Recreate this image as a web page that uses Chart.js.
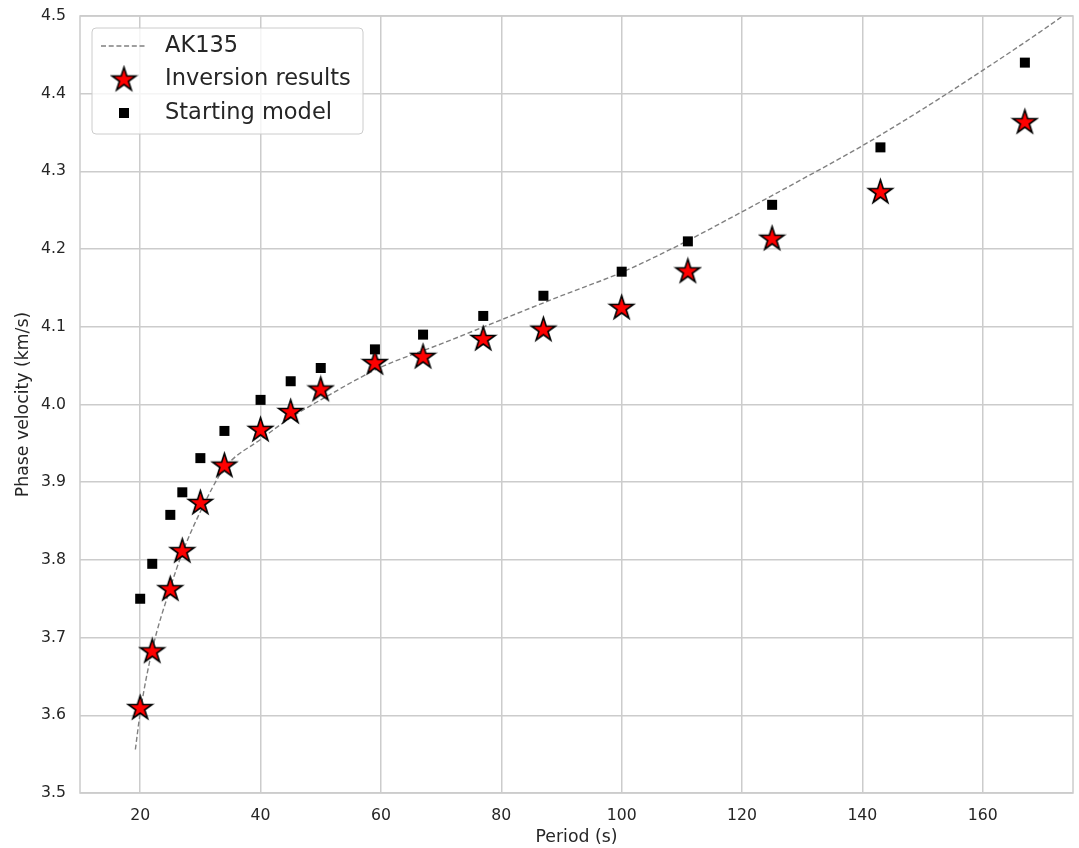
<!DOCTYPE html>
<html>
<head>
<meta charset="utf-8">
<title>Phase velocity</title>
<script src="https://cdn.jsdelivr.net/npm/chart.js@4.4.1/dist/chart.umd.min.js"></script>
<style>
  html, body { margin: 0; padding: 0; background: #ffffff; }
  #wrap { width: 1079px; height: 848px; }
</style>
</head>
<body>
<div id="wrap"><canvas id="chart" width="1079" height="848"></canvas></div>
<script>
// periods (s) where inversion / starting model were evaluated
const periods = [20, 22, 25, 27, 30, 34, 40, 45, 50, 59, 67, 77, 87, 100, 111, 125, 143, 167];
const inversionVel = [3.610, 3.683, 3.763, 3.812, 3.874, 3.922, 3.968, 3.991, 4.020, 4.054, 4.062, 4.085, 4.097, 4.125, 4.172, 4.214, 4.274, 4.364];
const startingVel = [3.750, 3.795, 3.858, 3.887, 3.931, 3.966, 4.006, 4.030, 4.047, 4.071, 4.090, 4.114, 4.140, 4.171, 4.210, 4.257, 4.331, 4.440];

// AK135 reference curve
const akPeriods = [19.2, 20, 22, 25, 27, 30, 34, 40, 45, 50, 60, 70, 80, 90, 100, 110, 120, 130, 140, 150, 160, 170, 176];
const akVel = [3.556, 3.603, 3.684, 3.764, 3.809, 3.862, 3.918, 3.955, 3.983, 4.006, 4.048, 4.078, 4.109, 4.140, 4.170, 4.207, 4.248, 4.290, 4.333, 4.380, 4.430, 4.482, 4.515];

const xTicks = [20, 40, 60, 80, 100, 120, 140, 160];
const labels = ["AK135", "Inversion results", "Starting model"];

const TEXT = "#262626";
const GRID = "#cccccc";
const FONT = "'DejaVu Sans', sans-serif";
const DASH = [5, 2.7];

// marker images
function makeStar(r) {
  const c = document.createElement("canvas");
  const s = Math.ceil(r * 2 + 4);
  c.width = s; c.height = s;
  const g = c.getContext("2d");
  const cx = s / 2, cy = s / 2 + 0.8, ri = r * 0.382;
  g.beginPath();
  for (let i = 0; i < 10; i++) {
    const rad = i % 2 === 0 ? r : ri;
    const a = -Math.PI / 2 + i * Math.PI / 5;
    const px = cx + rad * Math.cos(a), py = cy + rad * Math.sin(a);
    if (i === 0) g.moveTo(px, py); else g.lineTo(px, py);
  }
  g.closePath();
  g.fillStyle = "#ff0000";
  g.fill();
  g.lineWidth = 1.6;
  g.lineJoin = "miter";
  g.strokeStyle = "#000000";
  g.stroke();
  return c;
}
function makeSquare(side) {
  const c = document.createElement("canvas");
  const s = side + 2;
  c.width = s; c.height = s;
  const g = c.getContext("2d");
  g.fillStyle = "#000000";
  g.fillRect(1, 1, side, side);
  return c;
}
const starImg = makeStar(12.5);
const squareImg = makeSquare(10);

// frame + legend drawn inside the plot like matplotlib
const framePlugin = {
  id: "frameLegend",
  afterDraw(chart) {
    const { ctx, chartArea: a } = chart;
    ctx.save();
    ctx.strokeStyle = GRID;
    ctx.lineWidth = 1.5;
    ctx.strokeRect(a.left, a.top, a.right - a.left, a.bottom - a.top);

    // legend box
    const bx = 92, by = 28, bw = 271, bh = 106, rr = 4;
    ctx.beginPath();
    ctx.moveTo(bx + rr, by);
    ctx.arcTo(bx + bw, by, bx + bw, by + bh, rr);
    ctx.arcTo(bx + bw, by + bh, bx, by + bh, rr);
    ctx.arcTo(bx, by + bh, bx, by, rr);
    ctx.arcTo(bx, by, bx + bw, by, rr);
    ctx.closePath();
    ctx.fillStyle = "rgba(255,255,255,0.8)";
    ctx.fill();
    ctx.strokeStyle = GRID;
    ctx.lineWidth = 1;
    ctx.stroke();

    const rows = [46, 79, 113];
    // AK135 dashed sample
    ctx.strokeStyle = "#808080";
    ctx.lineWidth = 1.4;
    ctx.setLineDash(DASH);
    ctx.beginPath();
    ctx.moveTo(101, rows[0]);
    ctx.lineTo(147, rows[0]);
    ctx.stroke();
    ctx.setLineDash([]);
    ctx.drawImage(starImg, 124 - starImg.width / 2, rows[1] - starImg.height / 2);
    ctx.drawImage(squareImg, 124 - squareImg.width / 2, rows[2] - squareImg.height / 2);

    ctx.fillStyle = TEXT;
    ctx.font = "22.5px " + FONT;
    ctx.textBaseline = "middle";
    ctx.textAlign = "left";
    chart.data.datasets.forEach((ds, i) => {
      ctx.fillText(ds.label, 165, rows[i]);
    });
    ctx.restore();
  }
};

const ctx = document.getElementById("chart");
new Chart(ctx, {
  type: "scatter",
  data: {
    datasets: [
      {
        label: labels[0],
        data: akPeriods.map((p, i) => ({ x: p, y: akVel[i] })),
        showLine: true,
        borderColor: "#808080",
        borderWidth: 1.4,
        borderDash: DASH,
        pointRadius: 0,
        cubicInterpolationMode: "monotone",
        order: 3
      },
      {
        label: labels[1],
        data: periods.map((p, i) => ({ x: p, y: inversionVel[i] })),
        pointStyle: starImg,
        order: 1
      },
      {
        label: labels[2],
        data: periods.map((p, i) => ({ x: p, y: startingVel[i] })),
        pointStyle: squareImg,
        order: 2
      }
    ]
  },
  options: {
    responsive: false,
    animation: false,
    events: [],
    layout: { padding: { left: 0, right: 6, top: 16, bottom: 0 } },
    plugins: {
      legend: { display: false },
      tooltip: { enabled: false }
    },
    scales: {
      x: {
        type: "linear",
        min: 10,
        max: 175,
        afterBuildTicks: (scale) => { scale.ticks = xTicks.map(v => ({ value: v })); },
        afterFit: (scale) => { scale.height = 55; scale.paddingLeft = 0; scale.paddingRight = 0; },
        grid: { color: GRID, lineWidth: 1.5, drawTicks: false },
        border: { display: false },
        ticks: { color: TEXT, font: { family: FONT, size: 15.7 }, padding: 14, maxRotation: 0 },
        title: { display: true, text: "Period (s)", color: TEXT, font: { family: FONT, size: 17.3 }, padding: 0 }
      },
      y: {
        type: "linear",
        min: 3.5,
        max: 4.5,
        afterFit: (scale) => { scale.width = 80; scale.paddingTop = 0; scale.paddingBottom = 0; },
        grid: { color: GRID, lineWidth: 1.5, drawTicks: false },
        border: { display: false },
        ticks: {
          stepSize: 0.1,
          color: TEXT,
          font: { family: FONT, size: 15.7 },
          padding: 14,
          callback: (v) => v.toFixed(1)
        },
        title: { display: true, text: "Phase velocity (km/s)", color: TEXT, font: { family: FONT, size: 17.3 }, padding: { top: 13, bottom: 0 } }
      }
    }
  },
  plugins: [framePlugin]
});
</script>
</body>
</html>
